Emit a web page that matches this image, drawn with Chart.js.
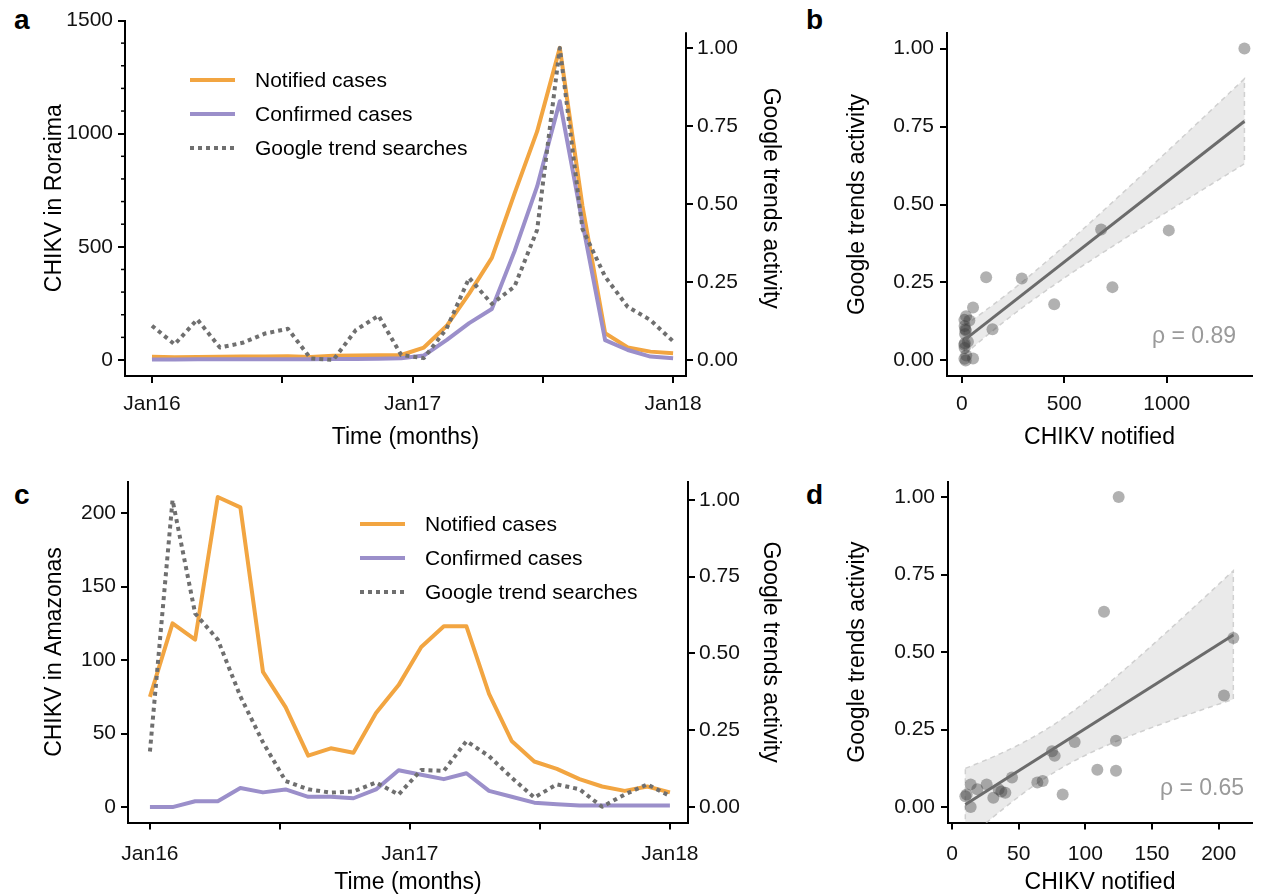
<!DOCTYPE html>
<html>
<head>
<meta charset="utf-8">
<script src="https://cdn.jsdelivr.net/npm/chart.js@4.4.1/dist/chart.umd.min.js"></script>
<style>
    body { margin: 0; background: #fff; width: 1264px; height: 894px; position: relative; overflow: hidden;
           font-family: 'Liberation Sans', Arial, sans-serif; }
    canvas { position: absolute; }
    .tag { position: absolute; font-weight: bold; font-size: 28px; line-height: 28px; color: #000; }
    .legend { position: absolute; font-size: 21px; color: #000; }
    .legend .row { position: absolute; left: 0; width: 320px; height: 34px; }
    .legend .key { position: absolute; left: 0; top: 15px; width: 45px; height: 4px; }
    .legend span { position: absolute; left: 65px; top: 5px; white-space: nowrap; }
    .rho { position: absolute; font-size: 23px; color: #9a9a9a; white-space: nowrap; }
</style>
</head>
<body>

<div class="tag" style="left:14px;top:6px">a</div>
<div class="tag" style="left:806px;top:6px">b</div>
<div class="tag" style="left:14px;top:481px">c</div>
<div class="tag" style="left:806px;top:481px">d</div>

<canvas id="chartA" width="790" height="455" style="left:0;top:0"></canvas>
<canvas id="chartB" width="464" height="455" style="left:800px;top:0"></canvas>
<canvas id="chartC" width="790" height="432" style="left:0;top:462px"></canvas>
<canvas id="chartD" width="464" height="432" style="left:800px;top:462px"></canvas>

<div class="legend" style="left:190px;top:63px">
    <div class="row" style="top:0"><div class="key" style="background:#F2A541"></div><span>Notified cases</span></div>
    <div class="row" style="top:34px"><div class="key" style="background:#9B8FCA"></div><span>Confirmed cases</span></div>
    <div class="row" style="top:68px"><div class="key" style="background:repeating-linear-gradient(to right,#6f6f6f 0 4px,transparent 4px 8px)"></div><span>Google trend searches</span></div>
</div>
<div class="legend" style="left:360px;top:507px">
    <div class="row" style="top:0"><div class="key" style="background:#F2A541"></div><span>Notified cases</span></div>
    <div class="row" style="top:34px"><div class="key" style="background:#9B8FCA"></div><span>Confirmed cases</span></div>
    <div class="row" style="top:68px"><div class="key" style="background:repeating-linear-gradient(to right,#6f6f6f 0 4px,transparent 4px 8px)"></div><span>Google trend searches</span></div>
</div>

<div class="rho" style="left:1152px;top:322px">ρ = 0.89</div>
<div class="rho" style="left:1160px;top:774px">ρ = 0.65</div>

<script>
// Monthly series, 24 points from Jan16 to Jan18
const timeTicks = [0, 5.75, 11.5, 17.25, 23];
const timeTickLabels = ['Jan16', '', 'Jan17', '', 'Jan18'];

const roraimaNotified = [14, 12, 13, 14, 15, 16, 17, 13, 19, 20, 21, 22,
                         55, 150, 293, 451, 735, 1010, 1379, 680, 119, 55, 37, 30];
const roraimaConfirmed = [2, 2, 3, 3, 3, 3, 3, 3, 4, 4, 5, 8,
                          20, 88, 163, 225, 480, 767, 1143, 606, 88, 44, 15, 8];
const roraimaGoogle = [0.11, 0.05, 0.13, 0.04, 0.055, 0.085, 0.10, 0.005, 0.0, 0.096, 0.142, 0.016,
                       0.006, 0.10, 0.263, 0.18, 0.235, 0.417, 1.0, 0.42, 0.267, 0.17, 0.128, 0.06];

const amazonasNotified = [75, 125, 114, 211, 204, 92, 68, 35, 40, 37, 64, 83,
                          109, 123, 123, 77, 45, 31, 26, 19, 14, 11, 14, 10];
const amazonasConfirmed = [0, 0, 4, 4, 13, 10, 12, 7, 7, 6, 12, 25,
                           22, 19, 23, 11, 7, 3, 2, 1, 1, 1, 1, 1];
const amazonasGoogle = [0.18, 1.0, 0.63, 0.545, 0.36, 0.21, 0.084, 0.057, 0.046, 0.05, 0.079, 0.04,
                        0.12, 0.117, 0.214, 0.165, 0.095, 0.03, 0.073, 0.057, 0.0, 0.04, 0.073, 0.035];

const roraimaCaseTicks = [0, 500, 1000, 1500];
const roraimaMinorTicks = [100, 200, 300, 400, 600, 700, 800, 900, 1100, 1200, 1300, 1400];
const amazonasCaseTicks = [0, 50, 100, 150, 200];
const trendTicks = [0, 0.25, 0.5, 0.75, 1];
const roraimaNotifiedTicks = [0, 500, 1000];
const amazonasNotifiedTicks = [0, 50, 100, 150, 200];

const ORANGE = '#F2A541';
const PURPLE = '#9B8FCA';
const GREY = '#6f6f6f';

Chart.defaults.font.family = "'Liberation Sans', Arial, sans-serif";
Chart.defaults.color = '#111';

// short minor ticks and a right axis line that stops at the top of the trends range
const extraAxisLines = {
    id: 'extraAxisLines',
    afterDraw(chart, args, opts) {
        const ctx = chart.ctx;
        ctx.save();
        ctx.strokeStyle = '#000';
        if (opts.minor) {
            const s = chart.scales.y;
            ctx.lineWidth = 1.5;
            opts.minor.forEach(v => {
                const py = s.getPixelForValue(v);
                ctx.beginPath();
                ctx.moveTo(s.right - 4, py);
                ctx.lineTo(s.right, py);
                ctx.stroke();
            });
        }
        if (opts.rightTop !== undefined) {
            const s = chart.scales.y2;
            ctx.lineWidth = 2;
            ctx.beginPath();
            ctx.moveTo(s.left, s.getPixelForValue(opts.rightTop));
            ctx.lineTo(s.left, chart.chartArea.bottom + 1);
            ctx.stroke();
        }
        ctx.restore();
    }
};

function fixedTicks(values) {
    return s => { s.ticks = values.map(v => ({ value: v })); };
}

function axisStyle() {
    return {
        grid: { display: true, drawOnChartArea: false, drawTicks: true, tickLength: 7, color: '#000', lineWidth: 2 },
        border: { display: true, color: '#000', width: 2 }
    };
}

function toPoints(values) {
    return values.map((v, i) => ({ x: i, y: v }));
}

function timeChart(id, g) {
    return new Chart(document.getElementById(id), {
        type: 'line',
        data: {
            datasets: [
                { data: toPoints(g.google), yAxisID: 'y2', borderColor: GREY, borderWidth: 4,
                  borderDash: [4, 4], borderJoinStyle: 'round', pointRadius: 0, order: 1 },
                { data: toPoints(g.confirmed), yAxisID: 'y', borderColor: PURPLE, borderWidth: 4,
                  borderJoinStyle: 'round', pointRadius: 0, order: 2 },
                { data: toPoints(g.notified), yAxisID: 'y', borderColor: ORANGE, borderWidth: 4,
                  borderJoinStyle: 'round', pointRadius: 0, order: 3 }
            ]
        },
        options: {
            responsive: false,
            animation: false,
            layout: { padding: { top: g.top, left: 0, right: 0, bottom: 0 } },
            scales: {
                x: {
                    type: 'linear', min: g.xMin, max: g.xMax,
                    ...axisStyle(),
                    afterBuildTicks: fixedTicks(timeTicks),
                    afterFit: s => { s.height = g.xHeight; },
                    ticks: { callback: (v, i) => timeTickLabels[i], font: { size: 21 }, padding: g.xTickPad,
                             maxRotation: 0, autoSkip: false },
                    title: { display: true, text: 'Time (months)', color: '#000', font: { size: 23 },
                             padding: { top: 0, bottom: g.xTitlePad } }
                },
                y: {
                    position: 'left', min: g.yMin, max: g.yMax,
                    ...axisStyle(),
                    afterBuildTicks: fixedTicks(g.caseTicks),
                    afterFit: s => { s.width = g.left; },
                    ticks: { callback: v => String(v), font: { size: 21 }, padding: 5 },
                    title: { display: true, text: g.yTitle, color: '#000', font: { size: 23 },
                             padding: { top: 41.2, bottom: 0 } }
                },
                y2: {
                    position: 'right', min: -0.0513, max: g.y2Max,
                    ...axisStyle(),
                    border: { display: g.rightTop === undefined, color: '#000', width: 2 },
                    afterBuildTicks: fixedTicks(trendTicks),
                    afterFit: s => { s.width = g.right; },
                    ticks: { callback: v => v.toFixed(2), font: { size: 21 }, padding: 4 },
                    title: { display: true, text: 'Google trends activity', color: '#000', font: { size: 23 },
                             padding: { top: 6.2, bottom: 0 } }
                }
            },
            plugins: {
                legend: { display: false },
                tooltip: { enabled: false },
                extraAxisLines: { minor: g.minor, rightTop: g.rightTop }
            }
        },
        plugins: [extraAxisLines]
    });
}

// ordinary least squares with a 95% confidence band
function linearFit(xs, ys) {
    const n = xs.length;
    const mx = xs.reduce((a, b) => a + b, 0) / n;
    const my = ys.reduce((a, b) => a + b, 0) / n;
    let sxx = 0, sxy = 0;
    for (let i = 0; i < n; i++) {
        sxx += (xs[i] - mx) ** 2;
        sxy += (xs[i] - mx) * (ys[i] - my);
    }
    const slope = sxy / sxx;
    const icpt = my - slope * mx;
    let sse = 0;
    for (let i = 0; i < n; i++) sse += (ys[i] - icpt - slope * xs[i]) ** 2;
    const sd = Math.sqrt(sse / (n - 2));
    const t = 2.074; // t(0.975, 22)
    const xmin = Math.min(...xs), xmax = Math.max(...xs);
    const upper = [], lower = [];
    for (let k = 0; k <= 60; k++) {
        const x = xmin + (xmax - xmin) * k / 60;
        const yh = icpt + slope * x;
        const se = sd * Math.sqrt(1 / n + (x - mx) ** 2 / sxx);
        upper.push({ x: x, y: yh + t * se });
        lower.push({ x: x, y: yh - t * se });
    }
    return {
        line: [{ x: xmin, y: icpt + slope * xmin }, { x: xmax, y: icpt + slope * xmax }],
        band: upper.concat(lower.reverse(), [upper[0]])
    };
}

function scatterChart(id, g) {
    const fit = linearFit(g.notified, g.google);
    return new Chart(document.getElementById(id), {
        type: 'scatter',
        data: {
            datasets: [
                { type: 'line', data: fit.line, borderColor: '#6b6b6b', borderWidth: 3, pointRadius: 0, order: 1 },
                { data: g.notified.map((v, i) => ({ x: v, y: g.google[i] })),
                  backgroundColor: 'rgba(60,60,60,0.4)', borderWidth: 0, pointRadius: 6, order: 2 },
                { type: 'line', data: fit.band, borderColor: '#d0d0d0', borderWidth: 1.5, borderDash: [5, 4],
                  backgroundColor: 'rgba(150,150,150,0.2)', fill: 'shape', pointRadius: 0, order: 3 }
            ]
        },
        options: {
            responsive: false,
            animation: false,
            layout: { padding: { top: g.top, left: 0, right: 12, bottom: 0 } },
            scales: {
                x: {
                    type: 'linear', min: g.xMin, max: g.xMax,
                    ...axisStyle(),
                    afterBuildTicks: fixedTicks(g.xTicks),
                    afterFit: s => { s.height = g.xHeight; },
                    ticks: { callback: v => String(v), font: { size: 21 }, padding: g.xTickPad,
                             maxRotation: 0, autoSkip: false },
                    title: { display: true, text: 'CHIKV notified', color: '#000', font: { size: 23 },
                             padding: { top: 0, bottom: g.xTitlePad } }
                },
                y: {
                    min: -0.05, max: 1.05,
                    ...axisStyle(),
                    afterBuildTicks: fixedTicks(trendTicks),
                    afterFit: s => { s.width = g.left; },
                    ticks: { callback: v => v.toFixed(2), font: { size: 21 }, padding: 6 },
                    title: { display: true, text: 'Google trends activity', color: '#000', font: { size: 23 },
                             padding: { top: 44.2, bottom: 0 } }
                }
            },
            plugins: {
                legend: { display: false },
                tooltip: { enabled: false }
            }
        }
    });
}

timeChart('chartA', {
    notified: roraimaNotified, confirmed: roraimaConfirmed, google: roraimaGoogle,
    yTitle: 'CHIKV in Roraima', caseTicks: roraimaCaseTicks, minor: roraimaMinorTicks,
    yMin: -70.7, yMax: 1500, y2Max: 1.088, rightTop: 1.05,
    xMin: -1.19, xMax: 23.57, top: 20.5, left: 125, right: 104, xHeight: 79, xTickPad: 9, xTitlePad: 3.5
});

scatterChart('chartB', {
    notified: roraimaNotified, google: roraimaGoogle, xTicks: roraimaNotifiedTicks,
    xMin: -72, xMax: 1416, top: 33, left: 147, xHeight: 79, xTickPad: 9, xTitlePad: 3.5
});

timeChart('chartC', {
    notified: amazonasNotified, confirmed: amazonasConfirmed, google: amazonasGoogle,
    yTitle: 'CHIKV in Amazonas', caseTicks: amazonasCaseTicks,
    yMin: -10.5, yMax: 221.5, y2Max: 1.06,
    xMin: -0.97, xMax: 23.8, top: 19.6, left: 128, right: 102, xHeight: 71.5, xTickPad: 12, xTitlePad: -2.5
});

scatterChart('chartD', {
    notified: amazonasNotified, google: amazonasGoogle, xTicks: amazonasNotifiedTicks,
    xMin: -3, xMax: 225, top: 19.6, left: 148, xHeight: 71.5, xTickPad: 12, xTitlePad: -2.5
});
</script>
</body>
</html>
